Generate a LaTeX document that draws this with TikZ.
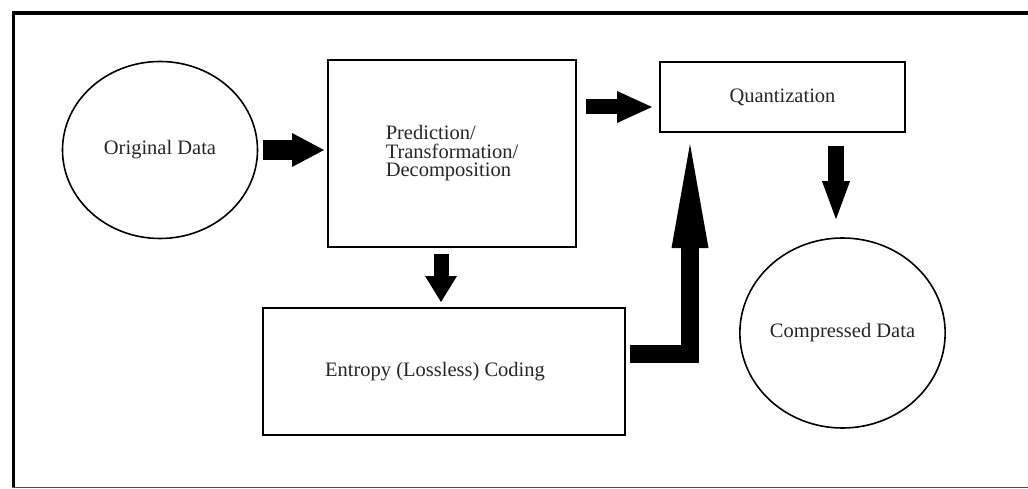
\documentclass[tikz,border=0pt]{standalone}
\usepackage{fontspec}
\setmainfont{Liberation Serif}
\usetikzlibrary{arrows.meta,shapes.geometric}

\begin{document}
\begin{tikzpicture}[x=1pt, y=-1pt, main/.style = {draw, line width=2pt, inner sep=0pt, text=black!85,
		font=\fontsize{20.5}{18.5}\selectfont}]
	\tikzset{edge/.style n args = {3}{line width=#1, -{Triangle[length=#2, width=#3, line width=0pt]}}}
	\useasboundingbox (0,0) rectangle (1028,489);

	% frame
	\draw[line width=4pt] (12,13) -- (1028,13);
	\draw[line width=3pt] (13.5,11) -- (13.5,488);
	\draw[line width=1.5pt, black!70] (12,487.5) -- (1028,487.5);

		\node[main, ellipse, line width=1.6pt, minimum width=195pt, minimum height=177pt] (1) at (160,150) {Original Data};
		\node[main, rectangle, minimum width=248pt, minimum height=187pt, align=left] (2) at (452,153.5) {Prediction/\\Transformation/\\Decomposition};
		\node[main, rectangle, minimum width=245pt, minimum height=70pt] (3) at (782.5,97) {Quantization};
		\node[main, rectangle, minimum width=362pt, minimum height=127pt] (4) at (444,371.5) {Entropy (Lossless) Coding\hspace*{18pt}};
		\node[main, ellipse, line width=1.6pt, minimum width=205pt, minimum height=190pt] (5) at (842.5,333) {Compressed Data};

		\draw[edge={20pt}{32pt}{34pt}, shorten <=4.5pt, shorten >=3pt] (1.east) -- (1.east -| 2.west);
		\draw[edge={15pt}{35pt}{32pt}, shorten <=9pt, shorten >=7pt] ([yshift=-10pt]2.east |- 3.west) -- ([yshift=-10pt]3.west);
		\draw[edge={15pt}{26pt}{32pt}, shorten <=6pt, shorten >=5pt] ([xshift=-11pt]2.south) -- ([xshift=-11pt]2.south |- 4.north);
		\draw[edge={16pt}{38pt}{28pt}, shorten <=13pt, shorten >=18pt] ([xshift=-6.5pt]5.north |- 3.south) -- ([xshift=-6.5pt]5.north);
		\draw[edge={18pt}{104pt}{37pt}, shorten <=4pt, shorten >=11pt] ([yshift=18pt]4.east) -| ([xshift=-92.5pt]3.south);
	\end{tikzpicture}
\end{document}
